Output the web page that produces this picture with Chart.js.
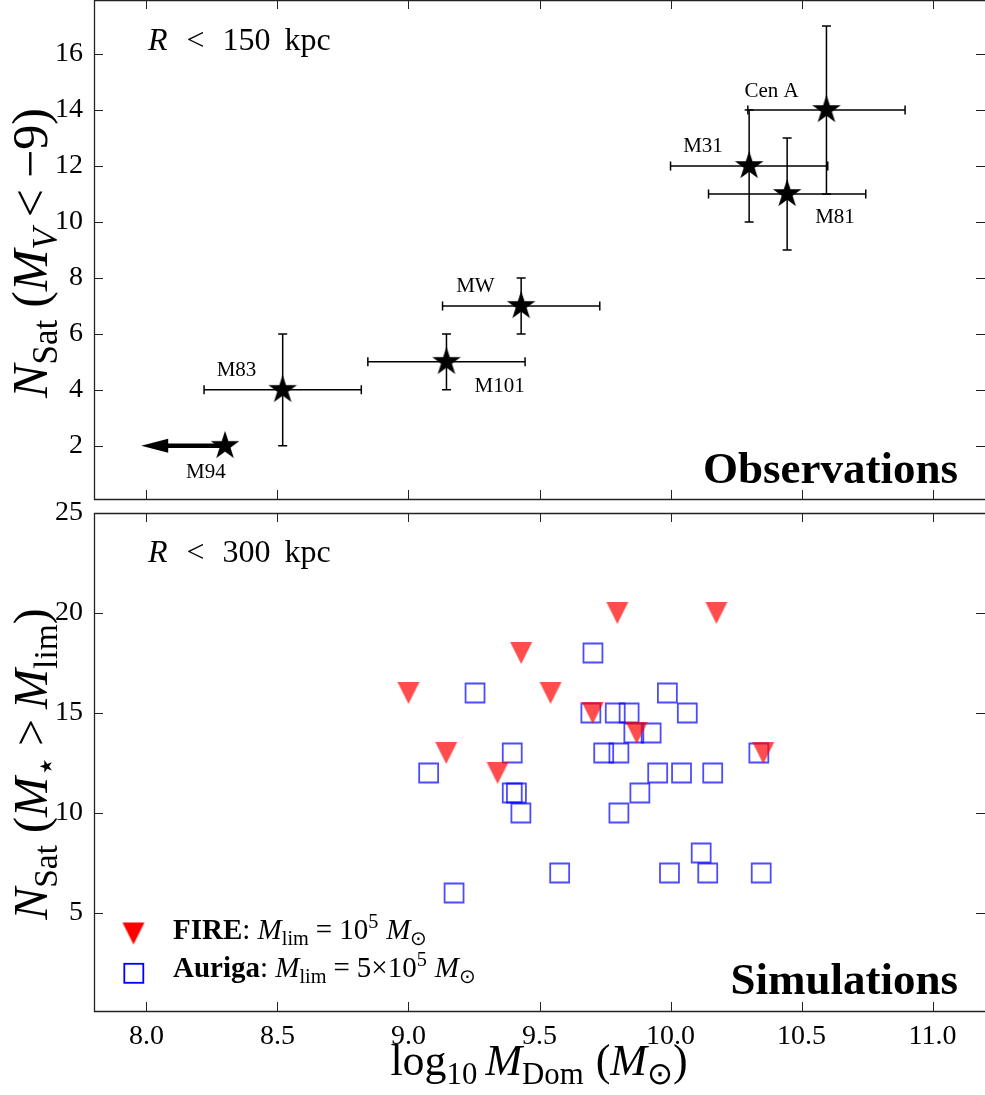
<!DOCTYPE html>
<html>
<head>
<meta charset="utf-8">
<title>Satellite counts vs dominant halo mass</title>
<script src="https://cdn.jsdelivr.net/npm/chart.js@4.4.1/dist/chart.umd.min.js"></script>
<style>
  html, body { margin: 0; padding: 0; background: #fff; overflow: hidden; }
  #wrap { position: relative; width: 985px; height: 1095px; }
  canvas { position: absolute; left: 0; }
  #obsChart { top: 0; }
  #simChart { top: 480px; }
</style>
</head>
<body>
<div id="wrap">
  <canvas id="obsChart" width="985" height="505"></canvas>
  <canvas id="simChart" width="985" height="615"></canvas>
</div>
<script>
// Observed hosts (top panel)
const obsNames = ['M94', 'M83', 'M101', 'MW', 'M31', 'M81', 'Cen A'];
const obsMass = [8.30, 8.52, 9.145, 9.43, 10.30, 10.445, 10.595];
const obsNsat = [2, 4, 5, 7, 12, 11, 14];
const obsMassErr = [0.32, 0.30, 0.30, 0.30, 0.30, 0.30, 0.30];
const obsNsatErr = [0, 2, 1, 1, 2, 2, 3];
const obsUpperLimit = [true, false, false, false, false, false, false];

// Simulated hosts (bottom panel)
const fireMass = [9.0, 9.144, 9.34, 9.43, 9.542, 9.703, 9.797, 9.871, 10.175, 10.354];
const fireNsat = [16, 13, 12, 18, 16, 15, 20, 14, 20, 13];
const aurigaMass = [9.077, 9.174, 9.254, 9.396, 9.396, 9.412, 9.429, 9.577, 9.704, 9.696,
                    9.745, 9.789, 9.803, 9.803, 9.842, 9.860, 9.883, 9.926, 9.951, 9.988,
                    9.996, 10.042, 10.064, 10.117, 10.142, 10.161, 10.337, 10.346];
const aurigaNsat = [12, 6, 16, 13, 11, 11, 10, 7, 18, 15,
                    13, 15, 13, 10, 15, 14, 11, 14, 12, 16,
                    7, 12, 15, 8, 7, 12, 13, 7];

// Tick values
const massTicks = [8.0, 8.5, 9.0, 9.5, 10.0, 10.5, 11.0];
const obsTicks = [2, 4, 6, 8, 10, 12, 14, 16];
const simTicks = [5, 10, 15, 20, 25];

// label placement relative to each star, in px
const obsLabelOffset = [[-39, 32], [-66, -14], [28, 30], [-65, -14], [-66, -14], [28, 29], [-82, -13]];

const SERIF = '"Liberation Serif", "Times New Roman", serif';

function makeStar(r) {
    const c = document.createElement('canvas');
    const s = Math.ceil(r * 2 + 2);
    c.width = c.height = s;
    const g = c.getContext('2d');
    g.translate(s / 2, s / 2);
    g.beginPath();
    for (let k = 0; k < 10; k++) {
        const rr = k % 2 ? r * 0.382 : r;
        const ang = -Math.PI / 2 + k * Math.PI / 5;
        g.lineTo(rr * Math.cos(ang), rr * Math.sin(ang));
    }
    g.closePath();
    g.fillStyle = '#000';
    g.fill();
    return c;
}

function makeTriangle(w, color) {
    const c = document.createElement('canvas');
    c.width = c.height = w + 2;
    const g = c.getContext('2d');
    g.beginPath();
    g.moveTo(1, 1);
    g.lineTo(w + 1, 1);
    g.lineTo(w / 2 + 1, w + 1);
    g.closePath();
    g.fillStyle = color;
    g.fill();
    return c;
}

// text with italic / bold / sub / superscript pieces
function drawRich(ctx, parts, x, y, size, align, angle) {
    const fontFor = p => {
        const s = (p.sub || p.sup) ? size * 0.7 : size;
        return (p.it ? 'italic ' : '') + (p.b ? 'bold ' : '') + s + 'px ' + SERIF;
    };
    const widths = parts.map(p => {
        if (p.g) return p.g;
        ctx.font = fontFor(p);
        return ctx.measureText(p.t).width;
    });
    const total = widths.reduce((a, b) => a + b, 0);
    ctx.save();
    ctx.translate(x, y);
    if (angle) ctx.rotate(angle);
    ctx.fillStyle = '#000';
    ctx.textAlign = 'left';
    ctx.textBaseline = 'alphabetic';
    let cx = align === 'center' ? -total / 2 : align === 'right' ? -total : 0;
    parts.forEach((p, i) => {
        if (!p.g) {
            ctx.font = fontFor(p);
            const dy = p.sub ? size * 0.2 : p.sup ? -size * 0.38 : 0;
            ctx.fillText(p.t, cx, dy);
        }
        cx += widths[i];
    });
    ctx.restore();
}

function drawPlain(ctx, text, x, y, font, align) {
    ctx.save();
    ctx.font = font;
    ctx.fillStyle = '#000';
    ctx.textAlign = align || 'left';
    ctx.textBaseline = 'alphabetic';
    ctx.fillText(text, x, y);
    ctx.restore();
}

// frame with inward ticks on every side
function axesFramePlugin(yTicks) {
    return {
        id: 'axesFrame',
        afterDraw(chart) {
            const {ctx, chartArea: a, scales: {x, y}} = chart;
            ctx.save();
            ctx.strokeStyle = '#222';
            ctx.lineWidth = 1;
            ctx.beginPath();
            massTicks.forEach(v => {
                const px = Math.round(x.getPixelForValue(v)) + 0.5;
                ctx.moveTo(px, a.bottom);
                ctx.lineTo(px, a.bottom - 9);
                ctx.moveTo(px, a.top);
                ctx.lineTo(px, a.top + 9);
            });
            yTicks.forEach(v => {
                const py = Math.round(y.getPixelForValue(v)) + 0.5;
                ctx.moveTo(a.left, py);
                ctx.lineTo(a.left + 9, py);
                ctx.moveTo(a.right, py);
                ctx.lineTo(a.right - 9, py);
            });
            ctx.stroke();
            ctx.lineWidth = 1.3;
            ctx.beginPath();
            ctx.moveTo(a.right + 2, a.top + 0.5);
            ctx.lineTo(a.left + 0.5, a.top + 0.5);
            ctx.lineTo(a.left + 0.5, a.bottom + 0.5);
            ctx.lineTo(a.right + 2, a.bottom + 0.5);
            ctx.stroke();
            ctx.restore();
        }
    };
}

const errorBarPlugin = {
    id: 'errorBars',
    beforeDatasetsDraw(chart) {
        const {ctx, scales: {x, y}} = chart;
        ctx.save();
        ctx.strokeStyle = '#000';
        ctx.fillStyle = '#000';
        obsMass.forEach((m, i) => {
            const px = x.getPixelForValue(m);
            const py = y.getPixelForValue(obsNsat[i]);
            if (obsUpperLimit[i]) {
                // upper limit on mass: arrow pointing left
                const tip = x.getPixelForValue(m - obsMassErr[i]);
                ctx.lineWidth = 4.5;
                ctx.beginPath();
                ctx.moveTo(px, py);
                ctx.lineTo(tip + 24, py);
                ctx.stroke();
                ctx.beginPath();
                ctx.moveTo(tip, py);
                ctx.lineTo(tip + 27, py - 7);
                ctx.lineTo(tip + 27, py + 7);
                ctx.closePath();
                ctx.fill();
                return;
            }
            const x0 = x.getPixelForValue(m - obsMassErr[i]);
            const x1 = x.getPixelForValue(m + obsMassErr[i]);
            const y0 = y.getPixelForValue(obsNsat[i] - obsNsatErr[i]);
            const y1 = y.getPixelForValue(obsNsat[i] + obsNsatErr[i]);
            ctx.lineWidth = 1.5;
            ctx.beginPath();
            ctx.moveTo(x0, py); ctx.lineTo(x1, py);
            ctx.moveTo(px, y0); ctx.lineTo(px, y1);
            ctx.moveTo(x0, py - 4.5); ctx.lineTo(x0, py + 4.5);
            ctx.moveTo(x1, py - 4.5); ctx.lineTo(x1, py + 4.5);
            ctx.moveTo(px - 4.5, y0); ctx.lineTo(px + 4.5, y0);
            ctx.moveTo(px - 4.5, y1); ctx.lineTo(px + 4.5, y1);
            ctx.stroke();
        });
        ctx.restore();
    }
};

const obsTextPlugin = {
    id: 'obsText',
    afterDraw(chart) {
        const {ctx, scales: {x, y}} = chart;
        obsNames.forEach((name, i) => {
            const px = x.getPixelForValue(obsMass[i]);
            const py = y.getPixelForValue(obsNsat[i]);
            drawPlain(ctx, name, px + obsLabelOffset[i][0], py + obsLabelOffset[i][1], '21px ' + SERIF);
        });
        drawRich(ctx, [{t: 'R', it: true}, {g: 19}, {t: '<'}, {g: 18}, {t: '150'}, {g: 14}, {t: 'kpc'}],
            148, 50, 32, 'left');
        drawPlain(ctx, 'Observations', 958, 483, 'bold 45px ' + SERIF, 'right');
        drawRich(ctx, [{t: 'N', it: true}, {t: 'Sat', sub: true}, {g: 12}, {t: '('}, {t: 'M', it: true},
            {t: 'V', it: true, sub: true}, {g: 11}, {t: '<'}, {g: 11}, {t: '\u22129)'}],
            47, 253, 50, 'center', -Math.PI / 2);
    }
};

// bottom canvas sits 480px down the page
const simTextPlugin = {
    id: 'simText',
    afterDraw(chart) {
        const {ctx} = chart;
        drawRich(ctx, [{t: 'R', it: true}, {g: 19}, {t: '<'}, {g: 18}, {t: '300'}, {g: 14}, {t: 'kpc'}],
            148, 82, 32, 'left');
        drawPlain(ctx, 'Simulations', 958, 514, 'bold 45px ' + SERIF, 'right');
        drawRich(ctx, [{t: 'N', it: true}, {t: 'Sat', sub: true}, {g: 12}, {t: '('}, {t: 'M', it: true},
            {t: '\u22c6', sub: true}, {g: 10}, {t: '>'}, {g: 10}, {t: 'M', it: true}, {t: 'lim', sub: true}, {t: ')'}],
            47, 284, 48, 'center', -Math.PI / 2);
        drawRich(ctx, [{t: 'log'}, {t: '10', sub: true}, {g: 8}, {t: 'M', it: true}, {t: 'Dom', sub: true},
            {g: 12}, {t: '('}, {t: 'M', it: true}, {t: '\u2299', sub: true}, {t: ')'}],
            539, 595, 44, 'center');

        // legend
        const tri = makeTriangle(22, '#ff0000');
        ctx.drawImage(tri, 133.5 - tri.width / 2, 453.5 - tri.height / 2);
        ctx.save();
        ctx.strokeStyle = '#0000ff';
        ctx.lineWidth = 1.8;
        ctx.strokeRect(124.3, 483.8, 19, 19);
        ctx.restore();
        drawRich(ctx, [{t: 'FIRE', b: true}, {t: ': '}, {t: 'M', it: true}, {t: 'lim', sub: true}, {g: 7},
            {t: '='}, {g: 7}, {t: '10'}, {t: '5', sup: true}, {g: 8}, {t: 'M', it: true}, {t: '\u2299', sub: true}],
            173, 459, 29, 'left');
        drawRich(ctx, [{t: 'Auriga', b: true}, {t: ': '}, {t: 'M', it: true}, {t: 'lim', sub: true}, {g: 7},
            {t: '='}, {g: 7}, {t: '5\u00d710'}, {t: '5', sup: true}, {g: 8}, {t: 'M', it: true}, {t: '\u2299', sub: true}],
            173, 497, 29, 'left');
    }
};

function buildOptions(yMin, yMax, yTicks, showX, padding) {
    return {
        responsive: false,
        animation: false,
        events: [],
        layout: {padding: padding, autoPadding: false},
        plugins: {
            legend: {display: false},
            tooltip: {enabled: false}
        },
        scales: {
            x: {
                type: 'linear',
                min: 7.8,
                max: 11.2,
                display: showX,
                afterBuildTicks: s => { s.ticks = massTicks.map(v => ({value: v})); },
                afterFit: s => {
                    s.height = showX ? 84 : 0;
                    s.paddingLeft = 0;
                    s.paddingRight = 0;
                },
                grid: {display: false},
                border: {display: false},
                ticks: {
                    font: {family: SERIF, size: 28},
                    color: '#000',
                    padding: 1,
                    maxRotation: 0,
                    autoSkip: false,
                    callback: v => Number(v).toFixed(1)
                }
            },
            y: {
                type: 'linear',
                min: yMin,
                max: yMax,
                afterBuildTicks: s => { s.ticks = yTicks.map(v => ({value: v})); },
                afterFit: s => { s.width = 94; s.paddingTop = 0; s.paddingBottom = 0; },
                grid: {display: false},
                border: {display: false},
                ticks: {
                    font: {family: SERIF, size: 28},
                    color: '#000',
                    padding: 3,
                    callback: v => String(v)
                }
            }
        }
    };
}

const starImg = makeStar(15);
const fireImg = makeTriangle(22, 'rgba(255, 0, 0, 0.7)');

new Chart(document.getElementById('obsChart'), {
    type: 'scatter',
    data: {
        datasets: [{
            label: 'Observations',
            data: obsMass.map((m, i) => ({x: m, y: obsNsat[i]})),
            pointStyle: starImg,
            pointRadius: 12
        }]
    },
    options: buildOptions(0.1, 17.93, obsTicks, false, {top: 0, right: 0, bottom: 6, left: 0}),
    plugins: [errorBarPlugin, axesFramePlugin(obsTicks), obsTextPlugin]
});

new Chart(document.getElementById('simChart'), {
    type: 'scatter',
    data: {
        datasets: [{
            label: 'FIRE',
            data: fireMass.map((m, i) => ({x: m, y: fireNsat[i]})),
            pointStyle: fireImg,
            pointRadius: 11
        }, {
            label: 'Auriga',
            data: aurigaMass.map((m, i) => ({x: m, y: aurigaNsat[i]})),
            pointStyle: 'rect',
            pointRadius: 13.4,
            pointBorderWidth: 1.8,
            pointBorderColor: 'rgba(0, 0, 255, 0.7)',
            pointBackgroundColor: 'rgba(0, 0, 0, 0)'
        }]
    },
    options: buildOptions(0.1, 25, simTicks, true, {top: 33, right: 0, bottom: 0, left: 0}),
    plugins: [axesFramePlugin(simTicks), simTextPlugin]
});
</script>
</body>
</html>
